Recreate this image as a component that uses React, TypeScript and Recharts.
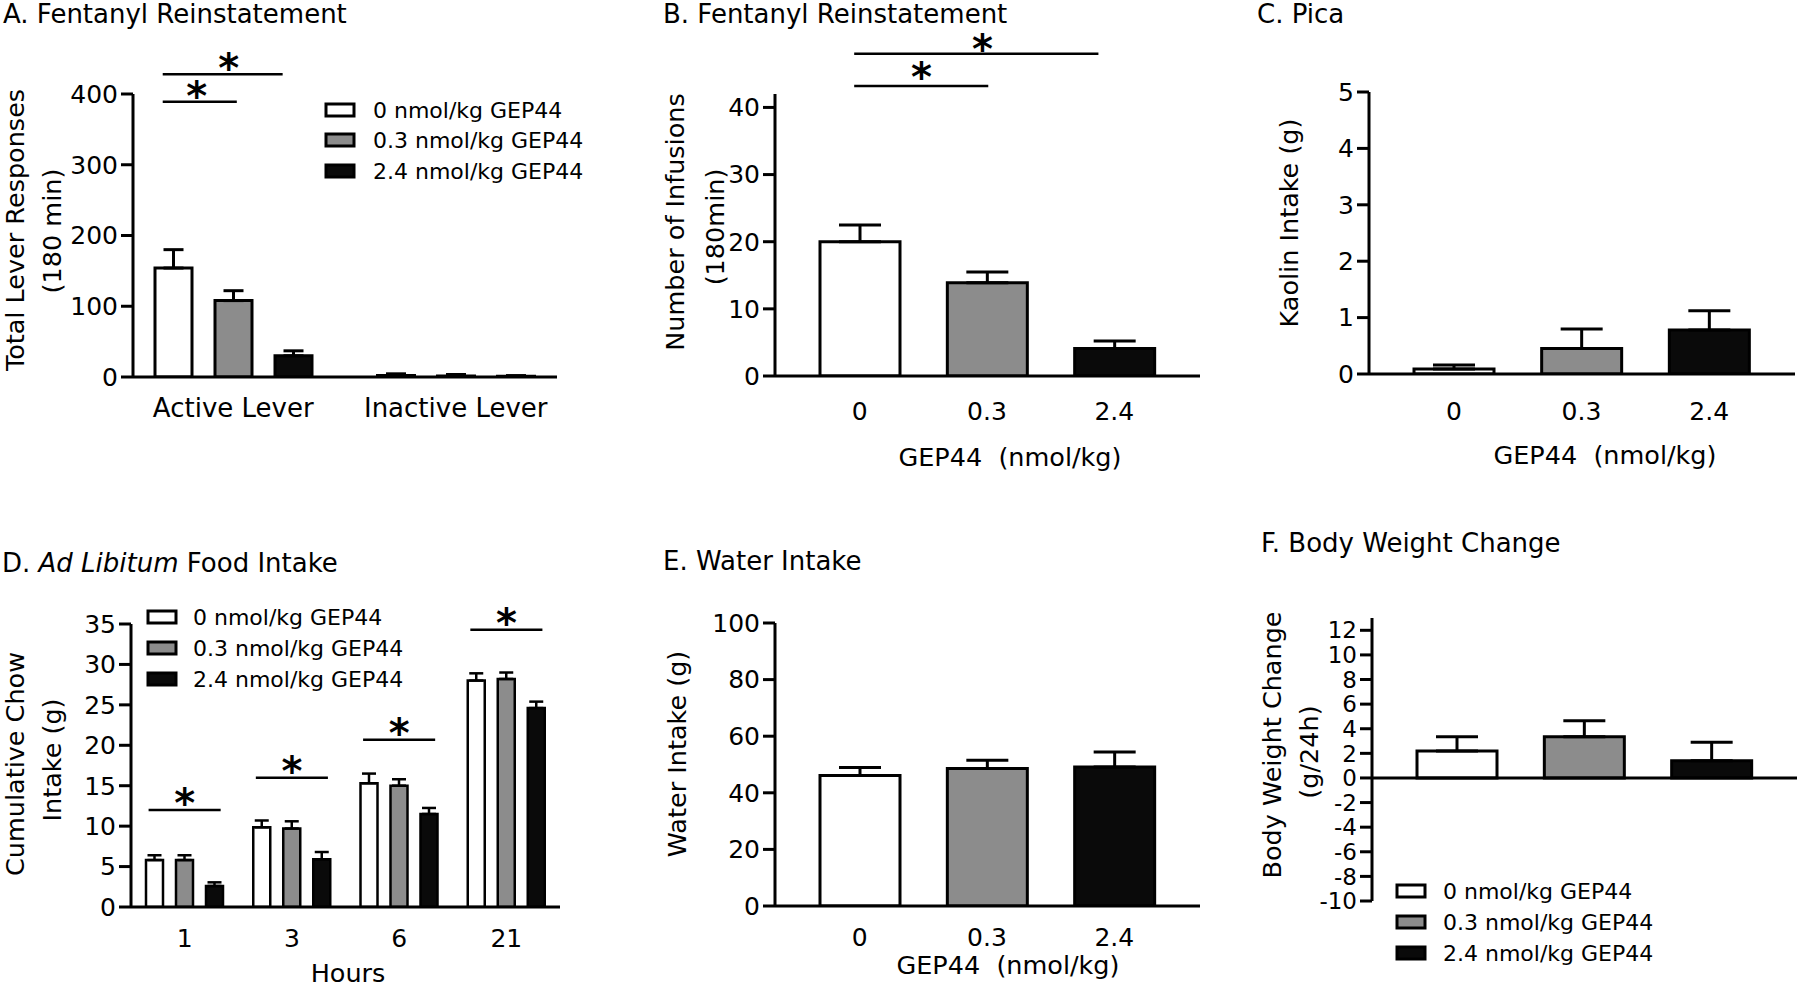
import React from 'react';
import { BarChart, Bar, XAxis, YAxis, ErrorBar, Cell, ReferenceLine, ReferenceDot } from 'recharts';

// ---------- shared ----------
const doseLegend = ['0 nmol/kg GEP44', '0.3 nmol/kg GEP44', '2.4 nmol/kg GEP44'];
const doseTicks = ['0', '0.3', '2.4'];
const doseFills = ['#ffffff', '#8c8c8c', '#0a0a0a'];

// ---------- A. Fentanyl reinstatement (lever responses) ----------
const leverCategories = ['Active Lever', 'Inactive Lever'];
const leverMeans0 = [154, 2];
const leverSems0 = [26, 2.5];
const leverMeans03 = [108, 1.5];
const leverSems03 = [14, 2];
const leverMeans24 = [30, 1];
const leverSems24 = [7, 1];
const leverTicks = [0, 100, 200, 300, 400];
// [from, to, y] in band units (band centre = i + 0.5)
const leverSigLines = [[0.183, 0.722, 428], [0.183, 0.516, 389]];
const leverStars = [[0.48, 445], [0.336, 406]];

// ---------- B. Fentanyl reinstatement (infusions) ----------
const infusionMeans = [20, 13.9, 4.1];
const infusionSems = [2.5, 1.6, 1.1];
const infusionTicks = [0, 10, 20, 30, 40];
const infusionSigLines = [[0.457, 2.375, 48.0], [0.457, 1.51, 43.2]];
const infusionStars = [[1.465, 49.6], [0.985, 45.4]];

// ---------- C. Pica ----------
const kaolinMeans = [0.09, 0.45, 0.78];
const kaolinSems = [0.07, 0.35, 0.34];
const kaolinTicks = [0, 1, 2, 3, 4, 5];

// ---------- D. Ad libitum food intake ----------
const hourCategories = ['1', '3', '6', '21'];
const chowMeans0 = [5.8, 9.85, 15.3, 28.0];
const chowSems0 = [0.6, 0.85, 1.2, 0.9];
const chowMeans03 = [5.8, 9.7, 15.0, 28.2];
const chowSems03 = [0.6, 0.9, 0.8, 0.8];
const chowMeans24 = [2.6, 5.9, 11.5, 24.6];
const chowSems24 = [0.45, 0.9, 0.75, 0.8];
const chowTicks = [0, 5, 10, 15, 20, 25, 30, 35];
const chowSigY = [12.0, 16.0, 20.7, 34.3];
const chowSigHalf = 0.336;
const chowStarLift = 1.6;

// ---------- E. Water intake ----------
const waterMeans = [46.1, 48.6, 49.1];
const waterSems = [2.8, 2.9, 5.3];
const waterTicks = [0, 20, 40, 60, 80, 100];

// ---------- F. Body weight change ----------
const weightMeans = [2.2, 3.35, 1.4];
const weightSems = [1.15, 1.3, 1.5];
const weightTicks = [-10, -8, -6, -4, -2, 0, 2, 4, 6, 8, 10, 12];

// ---------- helpers ----------
const AXIS = { stroke: '#000', strokeWidth: 3 };
const YTICK = { fontSize: 25, fill: '#000' };
const XTICK = { fontSize: 25, fill: '#000' };

type Plot = { l: number; r: number; t: number; b: number };
function layout(p: Plot, chartTop: number, xh: number, mb = 0, yw = 100) {
  const L = p.l - yw;
  return {
    style: { position: 'absolute' as const, left: L, top: chartTop },
    width: p.r - L + 6,
    height: p.b - chartTop + xh + mb,
    margin: { top: p.t - chartTop, right: 6, bottom: mb, left: 0 },
    yw,
    xh,
  };
}
// numeric domain (in band units) that lines up with a padded category axis
function bandDomain(p: Plot, n: number, padL: number, padR: number) {
  const band = (p.r - p.l - padL - padR) / n;
  return [-padL / band, n + padR / band];
}

const Star = (p: any) => (
  <text x={p.cx} y={p.cy + 20} textAnchor="middle" fontSize={40} fontWeight="bold" fill="#000">*</text>
);

function sigLine(key: string, a: number, b: number, y: number) {
  return (
    <ReferenceLine
      key={key}
      xAxisId="ann"
      yAxisId="v"
      segment={[{ x: a, y }, { x: b, y }]}
      stroke="#000"
      strokeWidth={2.5}
      ifOverflow="visible"
    />
  );
}
function sigStar(key: string, x: number, y: number) {
  return <ReferenceDot key={key} xAxisId="ann" yAxisId="v" x={x} y={y} r={0} ifOverflow="visible" shape={Star} />;
}

function singleRows(means: number[], sems: number[]) {
  return doseTicks.map((d, i) => ({ cat: d, u: i + 0.5, m: means[i], e: [0, sems[i]] }));
}

function singleBar(capW: number) {
  return (
    <Bar xAxisId="cat" yAxisId="v" dataKey="m" stroke="#000" strokeWidth={3} isAnimationActive={false}>
      {doseFills.map((f, i) => (
        <Cell key={i} fill={f} />
      ))}
      <ErrorBar dataKey="e" width={capW} stroke="#000" strokeWidth={3} direction="y" />
    </Bar>
  );
}

function groupBars(capW: number, sw: number) {
  return [0, 1, 2].map((k) => (
    <Bar
      key={k}
      xAxisId="cat"
      yAxisId="v"
      dataKey={`m${k}`}
      fill={doseFills[k]}
      stroke="#000"
      strokeWidth={sw}
      isAnimationActive={false}
    >
      <ErrorBar dataKey={`e${k}`} width={capW} stroke="#000" strokeWidth={sw} direction="y" />
    </Bar>
  ));
}

function VLabel({ cx, cy, text, size = 25.5 }: { cx: number; cy: number; text: string; size?: number }) {
  return (
    <text transform={`translate(${cx},${cy}) rotate(-90)`} textAnchor="middle" dy="0.36em" fontSize={size} fill="#000">
      {text}
    </text>
  );
}

function LegendBlock({ boxX, textX, ys }: { boxX: number; textX: number; ys: number[] }) {
  return (
    <g>
      {doseLegend.map((t, i) => (
        <g key={i}>
          <rect x={boxX} y={ys[i] - 6} width={28} height={12} fill={doseFills[i]} stroke="#000" strokeWidth={3} />
          <text x={textX} y={ys[i] + 8} fontSize={22} fill="#000">
            {t}
          </text>
        </g>
      ))}
    </g>
  );
}

export default function App() {
  // ----- A -----
  const plotA = { l: 133, r: 557, t: 94, b: 377 };
  const padAL = -11;
  const padAR = -10;
  const la = layout(plotA, 0, 70);
  const rowsA = leverCategories.map((c, i) => ({
    cat: c,
    u: i + 0.5,
    m0: leverMeans0[i], e0: [0, leverSems0[i]],
    m1: leverMeans03[i], e1: [0, leverSems03[i]],
    m2: leverMeans24[i], e2: [0, leverSems24[i]],
  }));

  // ----- B / C / E / F shared x layout -----
  const padL = 21;
  const padR = 22;

  const plotB = { l: 775, r: 1200, t: 94, b: 376 };
  const lb = layout(plotB, 0, 70);
  const rowsB = singleRows(infusionMeans, infusionSems);

  const plotC = { l: 1369, r: 1795, t: 92, b: 374 };
  const lc = layout(plotC, 0, 70);
  const rowsC = singleRows(kaolinMeans, kaolinSems);

  // ----- D -----
  const plotD = { l: 131, r: 560, t: 624, b: 907 };
  const ld = layout(plotD, 520, 60);
  const rowsD = hourCategories.map((c, i) => ({
    cat: c,
    u: i + 0.5,
    m0: chowMeans0[i], e0: [0, chowSems0[i]],
    m1: chowMeans03[i], e1: [0, chowSems03[i]],
    m2: chowMeans24[i], e2: [0, chowSems24[i]],
  }));

  const plotE = { l: 775, r: 1200, t: 623, b: 906 };
  const le = layout(plotE, 520, 60);
  const rowsE = singleRows(waterMeans, waterSems);

  const plotF = { l: 1372, r: 1797, t: 618, b: 901 };
  const lf = layout(plotF, 520, 0, 24);
  const rowsF = singleRows(weightMeans, weightSems);

  return (
    <div
      style={{
        position: 'absolute',
        left: 0,
        top: 0,
        width: 1800,
        height: 991,
        background: '#fff',
        fontFamily: '"DejaVu Sans", sans-serif',
        overflow: 'hidden',
      }}
    >
      {/* A */}
      <div style={la.style}>
        <BarChart width={la.width} height={la.height} margin={la.margin} data={rowsA} barSize={37} barGap={23}>
          <XAxis xAxisId="cat" dataKey="cat" height={la.xh} padding={{ left: padAL, right: padAR }} axisLine={AXIS} tickLine={false} tickSize={0} tickMargin={22} interval={0} tick={{ fontSize: 26, fill: '#000' }} />
          <XAxis xAxisId="ann" orientation="top" dataKey="u" type="number" domain={bandDomain(plotA, 2, padAL, padAR)} hide allowDataOverflow />
          <YAxis yAxisId="v" width={la.yw} domain={[0, 400]} ticks={leverTicks} interval={0} allowDataOverflow axisLine={AXIS} tickLine={AXIS} tickSize={12} tickMargin={3} tick={YTICK} />
          {groupBars(10, 3)}
          {leverSigLines.map((s, i) => sigLine(`al${i}`, s[0], s[1], s[2]))}
          {leverStars.map((s, i) => sigStar(`as${i}`, s[0], s[1]))}
        </BarChart>
      </div>

      {/* B */}
      <div style={lb.style}>
        <BarChart width={lb.width} height={lb.height} margin={lb.margin} data={rowsB} barSize={80}>
          <XAxis xAxisId="cat" dataKey="cat" height={lb.xh} padding={{ left: padL, right: padR }} axisLine={AXIS} tickLine={false} tickSize={0} tickMargin={26} interval={0} tick={XTICK} />
          <XAxis xAxisId="ann" orientation="top" dataKey="u" type="number" domain={bandDomain(plotB, 3, padL, padR)} hide allowDataOverflow />
          <YAxis yAxisId="v" width={lb.yw} domain={[0, 42]} ticks={infusionTicks} interval={0} allowDataOverflow axisLine={AXIS} tickLine={AXIS} tickSize={12} tickMargin={3} tick={YTICK} />
          {singleBar(21)}
          {infusionSigLines.map((s, i) => sigLine(`bl${i}`, s[0], s[1], s[2]))}
          {infusionStars.map((s, i) => sigStar(`bs${i}`, s[0], s[1]))}
        </BarChart>
      </div>

      {/* C */}
      <div style={lc.style}>
        <BarChart width={lc.width} height={lc.height} margin={lc.margin} data={rowsC} barSize={80}>
          <XAxis xAxisId="cat" dataKey="cat" height={lc.xh} padding={{ left: padL, right: padR }} axisLine={AXIS} tickLine={false} tickSize={0} tickMargin={28} interval={0} tick={XTICK} />
          <YAxis yAxisId="v" width={lc.yw} domain={[0, 5]} ticks={kaolinTicks} interval={0} allowDataOverflow axisLine={AXIS} tickLine={AXIS} tickSize={12} tickMargin={3} tick={YTICK} />
          {singleBar(21)}
        </BarChart>
      </div>

      {/* D */}
      <div style={ld.style}>
        <BarChart width={ld.width} height={ld.height} margin={ld.margin} data={rowsD} barSize={17} barGap={13}>
          <XAxis xAxisId="cat" dataKey="cat" height={ld.xh} axisLine={AXIS} tickLine={false} tickSize={0} tickMargin={22} interval={0} tick={XTICK} />
          <XAxis xAxisId="ann" orientation="top" dataKey="u" type="number" domain={[0, hourCategories.length]} hide allowDataOverflow />
          <YAxis yAxisId="v" width={ld.yw} domain={[0, 35]} ticks={chowTicks} interval={0} allowDataOverflow axisLine={AXIS} tickLine={AXIS} tickSize={12} tickMargin={3} tick={YTICK} />
          {groupBars(7, 2.5)}
          {chowSigY.map((y, i) => sigLine(`dl${i}`, i + 0.5 - chowSigHalf, i + 0.5 + chowSigHalf, y))}
          {chowSigY.map((y, i) => sigStar(`ds${i}`, i + 0.5, y + chowStarLift))}
        </BarChart>
      </div>

      {/* E */}
      <div style={le.style}>
        <BarChart width={le.width} height={le.height} margin={le.margin} data={rowsE} barSize={80}>
          <XAxis xAxisId="cat" dataKey="cat" height={le.xh} padding={{ left: padL, right: padR }} axisLine={AXIS} tickLine={false} tickSize={0} tickMargin={22} interval={0} tick={XTICK} />
          <YAxis yAxisId="v" width={le.yw} domain={[0, 100]} ticks={waterTicks} interval={0} allowDataOverflow axisLine={AXIS} tickLine={AXIS} tickSize={12} tickMargin={3} tick={YTICK} />
          {singleBar(21)}
        </BarChart>
      </div>

      {/* F */}
      <div style={lf.style}>
        <BarChart width={lf.width} height={lf.height} margin={lf.margin} data={rowsF} barSize={80}>
          <XAxis xAxisId="cat" dataKey="cat" hide padding={{ left: padL, right: padR }} />
          <YAxis yAxisId="v" width={lf.yw} domain={[-10, 13]} ticks={weightTicks} interval={0} allowDataOverflow axisLine={AXIS} tickLine={AXIS} tickSize={12} tickMargin={3} tick={{ fontSize: 23, fill: '#000' }} />
          <ReferenceLine xAxisId="cat" yAxisId="v" y={0} stroke="#000" strokeWidth={3} />
          {singleBar(21)}
        </BarChart>
      </div>

      {/* text overlay */}
      <svg width={1800} height={991} style={{ position: 'absolute', left: 0, top: 0, pointerEvents: 'none' }}>
        <g fontSize={26} fill="#000">
          <text x={3} y={23}>A. Fentanyl Reinstatement</text>
          <text x={663} y={23}>B. Fentanyl Reinstatement</text>
          <text x={1257} y={23}>C. Pica</text>
          <text x={2} y={572}>
            D. <tspan fontStyle="italic">Ad Libitum</tspan> Food Intake
          </text>
          <text x={663} y={570}>E. Water Intake</text>
          <text x={1261} y={552}>F. Body Weight Change</text>
        </g>
        <g fontSize={25.5} fill="#000">
          <text x={1010} y={466} textAnchor="middle" style={{ whiteSpace: 'pre' }}>GEP44  (nmol/kg)</text>
          <text x={1605} y={464} textAnchor="middle" style={{ whiteSpace: 'pre' }}>GEP44  (nmol/kg)</text>
          <text x={1008} y={974} textAnchor="middle" style={{ whiteSpace: 'pre' }}>GEP44  (nmol/kg)</text>
          <text x={348} y={982} textAnchor="middle">Hours</text>
        </g>

        <VLabel cx={15} cy={230} text="Total Lever Responses" />
        <VLabel cx={52} cy={231} text="(180 min)" />
        <VLabel cx={675} cy={222} text="Number of Infusions" />
        <VLabel cx={715} cy={227} text="(180min)" />
        <VLabel cx={1289} cy={223} text="Kaolin Intake (g)" />
        <VLabel cx={15} cy={764} text="Cumulative Chow" />
        <VLabel cx={52} cy={760} text="Intake (g)" />
        <VLabel cx={677} cy={754} text="Water Intake (g)" />
        <VLabel cx={1272} cy={745} text="Body Weight Change" />
        <VLabel cx={1309} cy={752} text="(g/24h)" />

        <LegendBlock boxX={326} textX={373} ys={[110, 140, 171]} />
        <LegendBlock boxX={148} textX={193} ys={[617, 648, 679]} />
        <LegendBlock boxX={1397} textX={1443} ys={[891, 922, 953]} />
      </svg>
    </div>
  );
}
